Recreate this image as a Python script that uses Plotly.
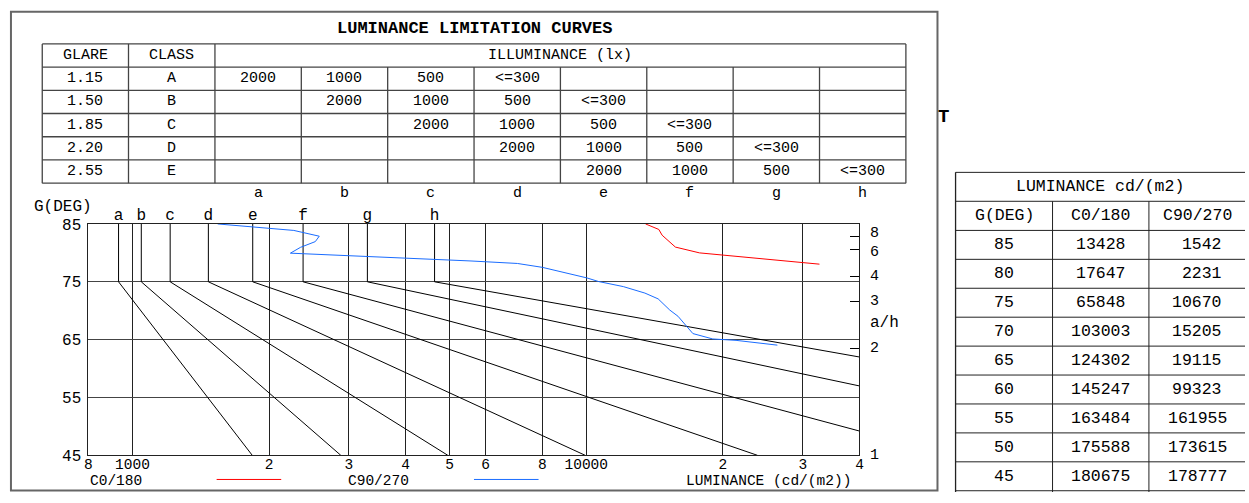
import numpy as np
import plotly.graph_objects as go

W, H = 1249, 503

# ---------------- data ----------------
glare_index = ["1.15", "1.50", "1.85", "2.20", "2.55"]
glare_class = ["A", "B", "C", "D", "E"]
illuminance_rows = [
    ["2000", "1000", "500", "<=300", "", "", "", ""],
    ["", "2000", "1000", "500", "<=300", "", "", ""],
    ["", "", "2000", "1000", "500", "<=300", "", ""],
    ["", "", "", "2000", "1000", "500", "<=300", ""],
    ["", "", "", "", "2000", "1000", "500", "<=300"],
]
curve_letters = ["a", "b", "c", "d", "e", "f", "g", "h"]
# limiting luminance (cd/m2) of each curve between 85 and 75 deg
curve_L_top = [932, 1046, 1211, 1470, 1841, 2377, 3294, 4632]
# where each curve leaves the diagram below 75 deg
curve_L_end = [1837, 2879, 4955, 9950, 23840, 40000, 40000, 40000]
curve_G_end = [45, 45, 45, 45, 45, 49.2, 57.0, 62.0]
G_top, G_knee = 85, 75

# luminance curve C0/180 (red)
c0_L = [13512, 14450, 14695, 15720, 17765, 20085, 30060, 32650]
c0_G = [85, 84.05, 83.05, 81.0, 80.0, 79.62, 78.33, 78.05]
# luminance curve C90/270 (blue)
c90_L = [1541, 1999, 2268, 2580, 2529, 2345, 2229, 5572, 7051, 8000, 8918,
         10035, 10640, 12070, 13465, 14400, 15275, 15925, 17180, 19000, 21380, 26370]
c90_G = [85, 84.28, 83.88, 82.88, 81.95, 80.95, 79.95, 78.6, 78.17, 77.5, 76.67,
         75.67, 75.05, 74.17, 73.05, 72.05, 70.12, 69.05, 66.05, 65.12, 64.88, 64.05]

x_tickvals = [800, 1000, 2000, 3000, 4000, 5000, 6000, 8000, 10000, 20000, 30000, 40000]
x_ticktext = ["8", "1000", "2", "3", "4", "5", "6", "8", "10000", "2", "3", "4"]
g_ticks = [45, 55, 65, 75, 85]
ah_ticks = [1, 2, 3, 4, 6, 8]

tbl_G = [85, 80, 75, 70, 65, 60, 55, 50, 45]
tbl_C0 = [13428, 17647, 65848, 103003, 124302, 145247, 163484, 175588, 180675]
tbl_C90 = [1542, 2231, 10670, 15205, 19115, 99323, 161955, 173615, 178777]

# ---------------- helpers ----------------
FONT = "Liberation Mono"
NB = "\u00a0"


def px(x):
    return x / W


def py(y):
    return 1 - y / H


shapes = []
annotations = []


def line(x0, y0, x1, y1, color="#333", width=1):
    shapes.append(dict(type="line", xref="paper", yref="paper",
                       x0=px(x0), y0=py(y0), x1=px(x1), y1=py(y1),
                       line=dict(color=color, width=width)))


def text(x, y, t, size=14, bold=False, color="black", xanchor="center"):
    if bold:
        t = "<b>" + t + "</b>"
    annotations.append(dict(xref="paper", yref="paper", x=px(x), y=py(y), text=t,
                            showarrow=False, xanchor=xanchor, yanchor="middle",
                            font=dict(family=FONT, size=size, color=color)))


# outer frame
shapes.append(dict(type="rect", xref="paper", yref="paper", x0=px(7), y0=py(501.5),
                   x1=px(939.5), y1=py(5), line=dict(color="#666", width=2)))

# title
text(473.5, 22, "LUMINANCE LIMITATION CURVES", size=17, bold=True)
text(946, 114, "T", size=19, bold=True)

# ---------------- top table ----------------
t_top, t_hdr, t_bot = 38.3, 62.3, 182.7
row_h = (t_bot - t_hdr) / 5
col_x = [38.5, 125.3, 212.3]
cw = (907.7 - 212.3) / 8
ill_x = [212.3 + i * cw for i in range(9)]
tc = "#444"
line(38.5, t_top, 907.7, t_top, tc, 1.3)
line(38.5, t_bot, 907.7, t_bot, tc, 1.3)
line(38.5, t_hdr, 907.7, t_hdr, tc, 1.3)
for i in range(1, 5):
    line(38.5, t_hdr + i * row_h, 907.7, t_hdr + i * row_h, tc, 1.3)
for x in col_x:
    line(x, t_top, x, t_bot, tc, 1.3)
line(907.7, t_top, 907.7, t_bot, tc, 1.3)
for x in ill_x[1:-1]:
    line(x, t_hdr, x, t_bot, tc, 1.3)

TS = 15
text((col_x[0] + col_x[1]) / 2, (t_top + t_hdr) / 2, "GLARE", TS)
text((col_x[1] + col_x[2]) / 2, (t_top + t_hdr) / 2, "CLASS", TS)
text((ill_x[0] + ill_x[-1]) / 2, (t_top + t_hdr) / 2, "ILLUMINANCE (lx)", TS)
for r in range(5):
    yc = t_hdr + (r + 0.5) * row_h
    text((col_x[0] + col_x[1]) / 2, yc, glare_index[r], TS)
    text((col_x[1] + col_x[2]) / 2, yc, glare_class[r], TS)
    for c in range(8):
        if illuminance_rows[r][c]:
            text((ill_x[c] + ill_x[c + 1]) / 2, yc, illuminance_rows[r][c], TS)
for c in range(8):
    text((ill_x[c] + ill_x[c + 1]) / 2, 193.5, curve_letters[c], TS)

# ---------------- right table ----------------
rx = [957.7, 1055.3, 1152.3, 1249.3]
ry0, ry1, ry2 = 171.5, 201.5, 231.7
rrow = 30.0
rc = "#222"
line(rx[0], ry0, 1249, ry0, rc, 1)
line(rx[0], ry1, 1249, ry1, rc, 1)
for i in range(10):
    line(rx[0], ry2 + i * rrow, 1249, ry2 + i * rrow, rc, 1)
line(rx[0], ry0, rx[0], 503, rc, 1.3)
for x in rx[1:3]:
    line(x, ry1, x, 503, rc, 1)
RS = 16.5
text((rx[0] + 1249.3) / 2, (ry0 + ry1) / 2, "LUMINANCE cd/(m2)", RS)
hdrs = ["G(DEG)", "C0/180", "C90/270"]
for j in range(3):
    text((rx[j] + rx[j + 1]) / 2, (ry1 + ry2) / 2, hdrs[j], RS)
for i in range(9):
    yc = ry2 + (i + 0.5) * rrow
    text((rx[0] + rx[1]) / 2, yc, str(tbl_G[i]), RS)
    text((rx[1] + rx[2]) / 2, yc, str(tbl_C0[i]), RS)
    text((rx[2] + rx[3]) / 2, yc, f"{tbl_C90[i]:5d}".replace(" ", NB), RS)

# ---------------- diagram labels ----------------
text(59.5, 207, "G(DEG)", 16)
text(886, 328, "a/h", 16)
LY = 491.5
LS = 14.5
text(113, LY, "C0/180", LS)
line(214, 490, 279, 490, "#ff0000", 1)
text(376.5, LY, "C90/270", LS)
line(473, 490, 538, 490, "#1a6cff", 1)
text(769, LY, "LUMINANCE (cd/(m2))", LS)

# a/h scale labels, placed on the G axis through G = atan(a/h)
ah_shift = {8: 2.5, 6: -2.5}
for v in ah_ticks:
    annotations.append(dict(xref="paper", yref="y", x=px(876),
                            y=float(np.degrees(np.arctan(v))), text=str(v),
                            yshift=ah_shift.get(v, 0), showarrow=False,
                            xanchor="center", yanchor="middle",
                            font=dict(family=FONT, size=15, color="black")))

# ---------------- traces ----------------
fig = go.Figure()
for i in range(8):
    fig.add_trace(go.Scatter(
        x=[curve_L_top[i], curve_L_top[i], curve_L_end[i]],
        y=[G_top, G_knee, curve_G_end[i]],
        mode="lines", line=dict(color="black", width=1),
        showlegend=False, hoverinfo="skip"))
fig.add_trace(go.Scatter(
    x=curve_L_top, y=[G_top] * 8, text=curve_letters, mode="text",
    textposition="top center", cliponaxis=False,
    textfont=dict(family=FONT, size=16, color="black"),
    showlegend=False, hoverinfo="skip"))
fig.add_trace(go.Scatter(x=c0_L, y=c0_G, mode="lines",
                         line=dict(color="#ff0000", width=1), showlegend=False))
fig.add_trace(go.Scatter(x=c90_L, y=c90_G, mode="lines",
                         line=dict(color="#1a6cff", width=1), showlegend=False))
# a/h scale carrier
fig.add_trace(go.Scatter(x=[800], y=[45], yaxis="y2", mode="markers",
                         marker=dict(size=1, opacity=0), showlegend=False,
                         hoverinfo="skip"))

tickfont = dict(family=FONT, size=16, color="black")
fig.update_layout(
    width=W, height=H,
    margin=dict(l=0, r=0, t=0, b=0),
    paper_bgcolor="white", plot_bgcolor="white",
    showlegend=False,
    xaxis=dict(type="log", range=[np.log10(800), np.log10(40000)],
               domain=[px(85), px(861)], tickvals=x_tickvals, ticktext=x_ticktext,
               showgrid=True, gridcolor="#222", gridwidth=1,
               showline=True, linecolor="#222", linewidth=1, mirror=True,
               ticks="", tickfont=dict(family=FONT, size=14.5, color="black"),
               zeroline=False, ticklabelstandoff=-5),
    yaxis=dict(range=[45, 85], domain=[py(465), py(225)], tickvals=g_ticks,
               showgrid=True, gridcolor="#444", gridwidth=1,
               showline=True, linecolor="#222", linewidth=1, mirror=True,
               ticks="", tickfont=tickfont, zeroline=False, ticklabelstandoff=3),
    yaxis2=dict(overlaying="y", side="right", anchor="x", range=[45, 85],
                tickvals=list(np.degrees(np.arctan(ah_ticks))),
                ticks="inside", ticklen=9, tickcolor="black", tickwidth=1,
                showticklabels=False,
                showgrid=False, showline=False, zeroline=False),
    shapes=shapes,
    annotations=annotations,
)

fig.write_html(
    "out.html",
    config={"displayModeBar": False},
    post_script="document.body.style.margin='0';document.body.style.overflow='hidden';",
)
